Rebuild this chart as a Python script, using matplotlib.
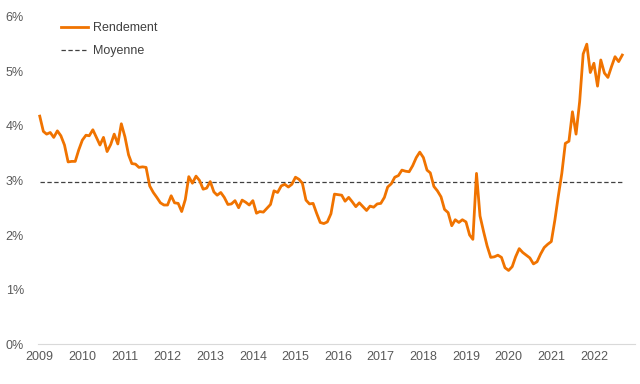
import numpy as np
import pandas as pd
import matplotlib
matplotlib.use("Agg")
import matplotlib.pyplot as plt

# monthly yield (%), Jan 2009 -> Sep 2022
rendement = [
    4.18, 3.90, 3.85, 3.88, 3.79, 3.91, 3.82, 3.65, 3.34, 3.35,
    3.35, 3.56, 3.74, 3.83, 3.82, 3.93, 3.79, 3.65, 3.79, 3.53,
    3.66, 3.85, 3.67, 4.04, 3.80, 3.47, 3.31, 3.30, 3.24, 3.25,
    3.24, 2.90, 2.78, 2.69, 2.59, 2.55, 2.55, 2.72, 2.59, 2.58,
    2.43, 2.65, 3.07, 2.95, 3.08, 3.00, 2.84, 2.86, 2.98, 2.79,
    2.73, 2.78, 2.69, 2.56, 2.57, 2.63, 2.50, 2.64, 2.60, 2.55,
    2.63, 2.40, 2.43, 2.42, 2.49, 2.56, 2.81, 2.78, 2.90, 2.93,
    2.88, 2.93, 3.06, 3.02, 2.95, 2.64, 2.57, 2.58, 2.40, 2.23,
    2.21, 2.24, 2.39, 2.75, 2.74, 2.73, 2.62, 2.69, 2.61, 2.52,
    2.59, 2.52, 2.45, 2.53, 2.51, 2.57, 2.58, 2.69, 2.88, 2.94,
    3.06, 3.09, 3.19, 3.17, 3.16, 3.27, 3.42, 3.52, 3.42, 3.19,
    3.14, 2.89, 2.81, 2.70, 2.47, 2.41, 2.17, 2.28, 2.23, 2.28,
    2.24, 2.00, 1.92, 3.13, 2.35, 2.06, 1.80, 1.59, 1.60, 1.63,
    1.59, 1.40, 1.35, 1.42, 1.60, 1.75, 1.68, 1.63, 1.58, 1.47,
    1.51, 1.65, 1.77, 1.83, 1.88, 2.28, 2.70, 3.13, 3.68, 3.72,
    4.26, 3.85, 4.45, 5.32, 5.50, 4.98, 5.15, 4.73, 5.21, 4.97,
    4.89, 5.09, 5.27, 5.18, 5.30,
]
moyenne = 2.97
years = list(range(2009, 2023))
yticks = [0, 1, 2, 3, 4, 5, 6]

dates = pd.date_range("2009-01-01", periods=len(rendement), freq="MS")

plt.rcParams['font.family'] = ['Liberation Sans', 'DejaVu Sans']
fig = plt.figure(figsize=(6.4, 3.84), dpi=100)
ax = fig.add_axes([0.059, 0.104, 0.933, 0.852])

ax.plot(dates, rendement, color='#F07300', lw=2.0, label='Rendement', zorder=3)
ax.plot(dates, [moyenne] * len(dates), color='#404040', lw=0.9,
        linestyle=(0, (3.5, 2)), label='Moyenne', zorder=2)

ax.set_ylim(0, 6)
ax.set_xlim(pd.Timestamp("2008-12-15"), pd.Timestamp("2022-12-18"))
ax.set_yticks(yticks)
ax.set_yticklabels([f"{v}%" for v in yticks])
ax.set_xticks([pd.Timestamp(f"{y}-01-01") for y in years])
ax.set_xticklabels([str(y) for y in years])

for s in ['top', 'left', 'right']:
    ax.spines[s].set_visible(False)
ax.spines['bottom'].set_color('#D9D9D9')
ax.spines['bottom'].set_linewidth(0.8)
ax.tick_params(length=0, labelsize=9, colors='#595959')
ax.tick_params(axis='y', pad=10)
ax.tick_params(axis='x', pad=5)

leg = ax.legend(loc='upper left', bbox_to_anchor=(0.02, 1.018), frameon=False,
                fontsize=9, handlelength=2.2, handletextpad=0.35,
                labelspacing=0.85, labelcolor='#404040')

fig.savefig('out.png', dpi=100)
